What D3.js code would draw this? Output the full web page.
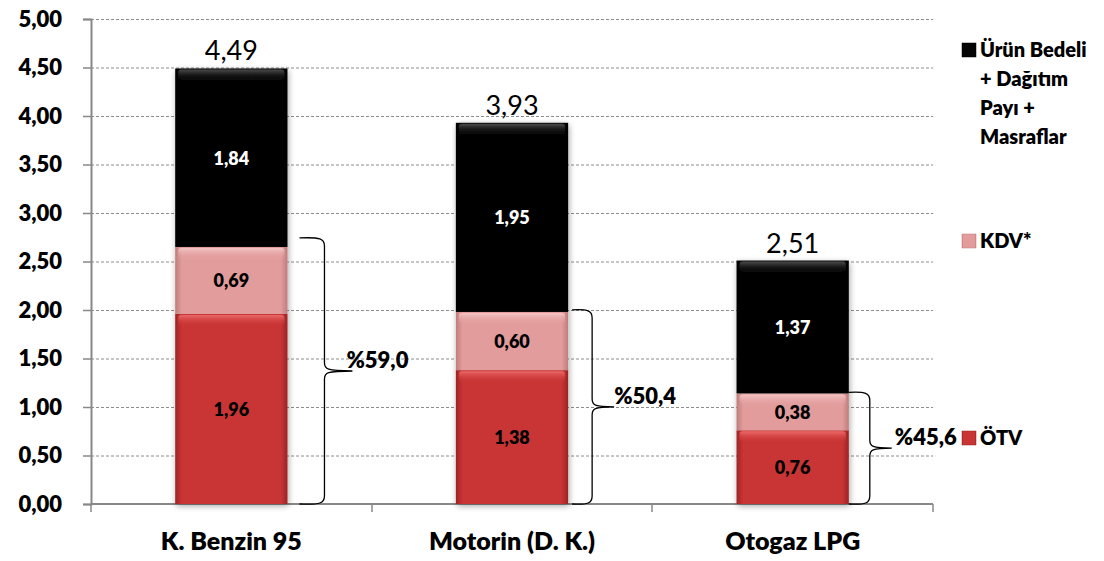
<!DOCTYPE html>
<html><head><meta charset="utf-8">
<script src="https://cdn.jsdelivr.net/npm/d3@7/dist/d3.min.js"></script>
<style>
body{margin:0;background:#fff;}
svg{display:block;font-family:Lato,"Open Sans",sans-serif;}
</style></head>
<body><svg id="c" width="1104" height="561"></svg>
<script>
const categories = ["K. Benzin 95", "Motorin (D. K.)", "Otogaz LPG"];
const otv = [1.96, 1.38, 0.76];
const kdv = [0.69, 0.60, 0.38];
const urun = [1.84, 1.95, 1.37];
const totals = ["4,49", "3,93", "2,51"];
const shares = ["%59,0", "%50,4", "%45,6"];
const yTicks = [0, 0.5, 1, 1.5, 2, 2.5, 3, 3.5, 4, 4.5, 5];

const svg = d3.select("#c");
const pLeft = 91, pRight = 933, pTop = 19, pBottom = 504;
const x = d3.scaleBand().domain(categories).range([pLeft, pRight]).paddingInner(0.6).paddingOuter(0.3);
const y = d3.scaleLinear().domain([0, 5]).range([pBottom, pTop]);
const fmt = v => d3.format(".2f")(v).replace(".", ",");
const W = 800;
// brace layout (style constants)
const braceStyle = [
  {gap:12, w:25, tip:28, txt:22, lift:9},
  {gap:4,  w:20, tip:22, txt:22, lift:2},
  {gap:0,  w:21, tip:22, txt:25, lift:1}
];

const colors = [
  {base:"#c93434", edge:"#9e2424", hi:"#f07070"},
  {base:"#e29c9c", edge:"#c07c7c", hi:"#f6caca"},
  {base:"#050505", edge:"#000000", hi:"#555555"}
];
const defs = svg.append("defs");
colors.forEach((c,i)=>{
  const g = defs.append("linearGradient").attr("id","g"+i).attr("x1","0").attr("x2","1").attr("y1","0").attr("y2","0");
  g.append("stop").attr("offset","0").attr("stop-color",c.edge);
  g.append("stop").attr("offset","0.06").attr("stop-color",c.base);
  g.append("stop").attr("offset","0.94").attr("stop-color",c.base);
  g.append("stop").attr("offset","1").attr("stop-color",c.edge);
  const h = defs.append("linearGradient").attr("id","h"+i).attr("x1","0").attr("x2","0").attr("y1","0").attr("y2","1");
  h.append("stop").attr("offset","0").attr("stop-color",c.hi).attr("stop-opacity",0.9);
  h.append("stop").attr("offset","1").attr("stop-color",c.base).attr("stop-opacity",0);
});
const f = defs.append("filter").attr("id","sh").attr("x","-20%").attr("y","-5%").attr("width","140%").attr("height","115%");
f.append("feGaussianBlur").attr("in","SourceAlpha").attr("stdDeviation","3");
f.append("feOffset").attr("dx","1").attr("dy","2").attr("result","b");
f.append("feComponentTransfer").append("feFuncA").attr("type","linear").attr("slope","0.35");
const m = f.append("feMerge"); m.append("feMergeNode"); m.append("feMergeNode").attr("in","SourceGraphic");

// grid
svg.append("g").selectAll("line").data(yTicks.slice(1)).join("line")
  .attr("x1",pLeft).attr("x2",pRight).attr("y1",d=>y(d)+0.5).attr("y2",d=>y(d)+0.5)
  .attr("stroke","#8c8c8c").attr("stroke-dasharray","3,2").attr("stroke-width",1);

// y axis
const ya = svg.append("g").attr("transform",`translate(${pLeft},0)`).call(d3.axisLeft(y).tickValues(yTicks).tickFormat(fmt).tickSize(8).tickPadding(21));
ya.select(".domain").attr("stroke","#888").attr("stroke-width",2);
ya.selectAll(".tick line").attr("stroke","#888").attr("stroke-width",1.5);
ya.selectAll("text").attr("font-size",22).attr("font-weight",W).attr("fill","#000").attr("font-family","Lato, sans-serif");

// x axis
const xa = svg.append("g").attr("transform",`translate(0,${pBottom})`);
xa.append("line").attr("x1",pLeft).attr("x2",pRight).attr("stroke","#888").attr("stroke-width",2);
const step = x.step();
const bounds = [pLeft, pLeft+step, pLeft+2*step, pRight].map(v=>Math.round(v));
xa.selectAll(".bt").data(bounds).join("line").attr("x1",d=>d).attr("x2",d=>d).attr("y1",0).attr("y2",8).attr("stroke","#888").attr("stroke-width",1.5);
xa.selectAll("text").data(categories).join("text")
  .attr("x",d=>x(d)+x.bandwidth()/2).attr("y",46).attr("text-anchor","middle")
  .attr("font-size",25).attr("font-weight",W).text(d=>d);

// stacked bars
const segs = [];
categories.forEach((c,i)=>{
  const vals=[otv[i],kdv[i],urun[i]]; let acc=0;
  vals.forEach((v,s)=>{segs.push({c,i,s,y0:acc,y1:acc+v,v}); acc+=v;});
});
const bars = svg.append("g");
bars.selectAll("g").data(categories).join("g").attr("filter","url(#sh)").each(function(c){
  const g=d3.select(this);
  segs.filter(d=>d.c===c).forEach(d=>{
    g.append("rect").attr("x",x(c)).attr("width",x.bandwidth()).attr("y",y(d.y1)).attr("height",y(d.y0)-y(d.y1)).attr("fill",`url(#g${d.s})`);
    g.append("rect").attr("x",x(c)+3).attr("width",x.bandwidth()-6).attr("y",y(d.y1)+1).attr("height",Math.min(12,(y(d.y0)-y(d.y1))/3)).attr("rx",3).attr("fill",`url(#h${d.s})`);
  });
});
svg.append("g").selectAll("text").data(segs).join("text")
  .attr("x",d=>x(d.c)+x.bandwidth()/2).attr("y",d=>y((d.y0+d.y1)/2)+7).attr("text-anchor","middle")
  .attr("font-size",18).attr("font-weight",W).attr("fill",d=>d.s===2?"#fff":"#000").text(d=>fmt(d.v));
// totals
svg.append("g").selectAll("text").data(categories).join("text")
  .attr("x",d=>x(d)+x.bandwidth()/2).attr("y",(d,i)=>y(otv[i]+kdv[i]+urun[i])-8).attr("text-anchor","middle")
  .attr("font-size",27).attr("fill","#000").text((d,i)=>totals[i]);

// braces
function brace(xl, yt, yb, w, tip){
  const xm = xl + w, ymid = (yt+yb)/2;
  return `M${xl},${yt} C${xm-4},${yt-1} ${xm},${yt+1} ${xm},${yt+8} L${xm},${ymid-8} C${xm},${ymid-2} ${xm+2},${ymid} ${xm+tip},${ymid}` +
         ` M${xm+tip},${ymid} C${xm+2},${ymid} ${xm},${ymid+2} ${xm},${ymid+8} L${xm},${yb-8} C${xm},${yb-1} ${xm-4},${yb+1} ${xl},${yb}`;
}
const bg = svg.append("g");
categories.forEach((c,i)=>{
  const b = braceStyle[i];
  const xl = x(c)+x.bandwidth()+b.gap;
  const yt = y(otv[i]+kdv[i])-b.lift, yb = pBottom;
  bg.append("path").attr("d",brace(xl,yt,yb,b.w,b.tip)).attr("fill","none").attr("stroke","#000").attr("stroke-width",1.3);
  bg.append("text").attr("x",xl+b.w+b.txt).attr("y",(yt+yb)/2-3).attr("font-size",22).attr("font-weight",W).text(shares[i]);
});

// legend
const leg = svg.append("g");
const legY = [50, 241, 438];
const legLines = [["Ürün Bedeli","+ Dağıtım","Payı +","Masraflar"],["KDV*"],["ÖTV"]];
const legSeries = [2,1,0];
legSeries.forEach((s,k)=>{
  leg.append("rect").attr("x",962).attr("y",legY[k]-7).attr("width",14).attr("height",14).attr("fill",`url(#g${s})`).attr("stroke",colors[s].edge).attr("stroke-width",0.5);
  leg.append("text").attr("x",980).attr("y",legY[k]+7).attr("font-size",20).attr("font-weight",W)
    .selectAll("tspan").data(legLines[k]).join("tspan").attr("x",980).attr("dy",(d,j)=>j?29:0).text(d=>d);
});
</script></body></html>
